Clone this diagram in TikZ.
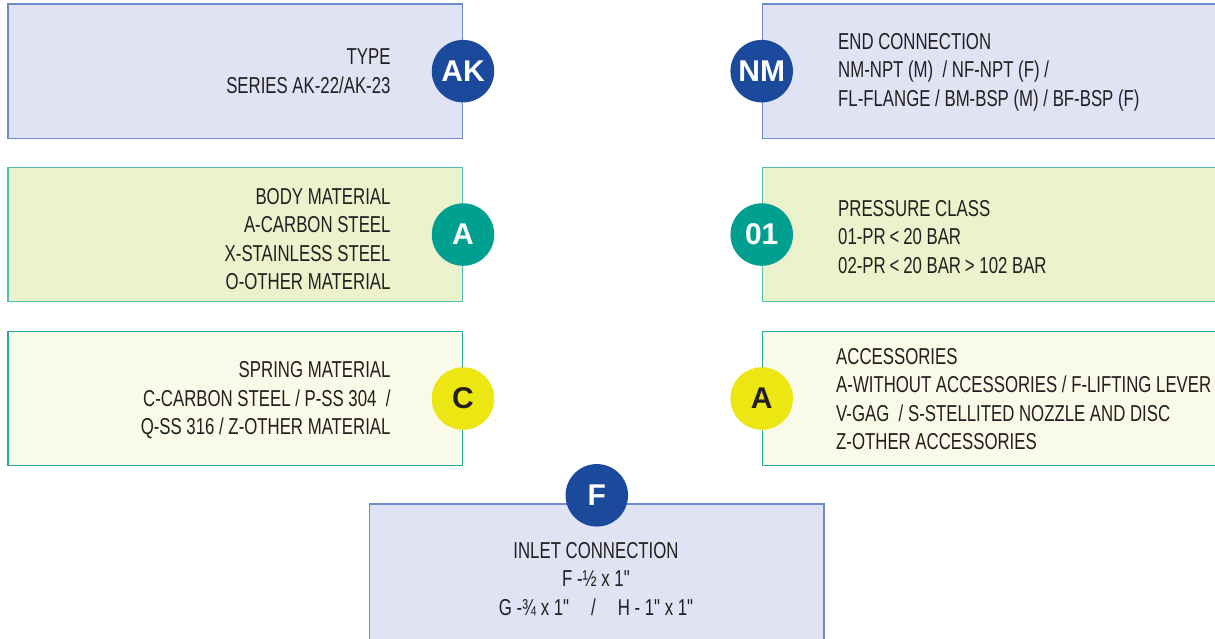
\documentclass[tikz,border=0pt]{standalone}
\usepackage{fontspec}
\setmainfont{Liberation Sans}[FakeStretch=0.73, Ligatures=TeXOff]
\newfontfamily\badgefont{Liberation Sans}[Ligatures=TeXOff]
\usetikzlibrary{positioning}

\definecolor{azulfondo}{HTML}{E0E3F4}
\definecolor{azulborde}{HTML}{6F8CC8}
\definecolor{verdefondo}{HTML}{ECF2CC}
\definecolor{verdeborde}{HTML}{52BFB1}
\definecolor{cremafondo}{HTML}{FAFAE8}
\definecolor{cremaborde}{HTML}{2AA99A}
\definecolor{azulcirculo}{HTML}{1B4A9D}
\definecolor{verdecirculo}{HTML}{00A090}
\definecolor{amarillocirculo}{HTML}{ECE612}
\definecolor{texto}{HTML}{231F20}

\begin{document}
\begin{tikzpicture}[x=1pt, y=-1pt,
    caja/.style={draw, line width=1.3pt, inner sep=0pt, anchor=north west, minimum height=134.4pt},
    cajaazul/.style={caja, fill=azulfondo, draw=azulborde},
    cajaverde/.style={caja, fill=verdefondo, draw=verdeborde},
    cajacrema/.style={caja, fill=cremafondo, draw=cremaborde},
    insignia/.style={circle, minimum size=62.5pt, inner sep=0pt, text=white,
      font=\badgefont\bfseries\fontsize{30}{30}\selectfont},
    rotulo/.style={inner sep=0pt, text=texto, font=\fontsize{23}{28.5}\selectfont},
    izq/.style={rotulo, align=right, anchor=north east},
    der/.style={rotulo, align=left, anchor=north west}]
      \useasboundingbox (0,0) rectangle (1215,638);

      % Cajas
      \node[cajaazul, minimum width=454.4pt] (tipo) at (7.3,3.3) {};
      \node[cajaazul, minimum width=470pt] (extremo) at (761.7,3.3) {};
      \node[cajaverde, minimum width=454.4pt] (cuerpo) at (7.3,166.7) {};
      \node[cajaverde, minimum width=470pt] (presion) at (761.7,166.7) {};
      \node[cajacrema, minimum width=454.4pt] (resorte) at (7.3,330.7) {};
      \node[cajacrema, minimum width=470pt] (accesorios) at (761.7,330.7) {};
      \node[cajaazul, minimum width=454.3pt, minimum height=150pt] (entrada) at (369,503.3) {};

      % Circulos
      \node[insignia, fill=azulcirculo] (ak) at (tipo.east) {AK};
      \node[insignia, fill=azulcirculo] (nm) at (extremo.west) {NM};
      \node[insignia, fill=verdecirculo] (a) at (cuerpo.east) {A};
      \node[insignia, fill=verdecirculo] (cero) at (presion.west) {01};
      \node[insignia, fill=amarillocirculo, text=texto] (c) at (resorte.east) {C};
      \node[insignia, fill=amarillocirculo, text=texto] (acc) at (accesorios.west) {A};
      \node[insignia, fill=azulcirculo] (f) at ([yshift=8pt]entrada.north) {F};

      % Textos
      \node[izq] (tipotxt) at (390.7,48.5) {TYPE\\SERIES AK-22/AK-23};
      \node[der] (extremotxt) at (838,33) {END CONNECTION\\NM-NPT (M)\ \ / NF-NPT (F) /\\FL-FLANGE / BM-BSP (M) / BF-BSP (F)};
      \node[izq] (cuerpotxt) at (390.7,188) {BODY MATERIAL\\A-CARBON STEEL\\X-STAINLESS STEEL\\O-OTHER MATERIAL};
      \node[der] (presiontxt) at (838,200) {PRESSURE CLASS\\01-PR\,<\,20 BAR\\02-PR\,<\,20 BAR\,> 102 BAR};
      \node[izq] (resortetxt) at (390.7,361.7) {SPRING MATERIAL\\C-CARBON STEEL / P-SS 304\ \ /\\Q-SS 316 / Z-OTHER MATERIAL};
      \node[der] (accesoriostxt) at (836,348) {ACCESSORIES\\A-WITHOUT ACCESSORIES\ / F-LIFTING LEVER\\V-GAG\ \ / S-STELLITED NOZZLE AND DISC\\Z-OTHER ACCESSORIES};
      \node[rotulo, align=center, anchor=north] (entradatxt) at (596,542) {INLET CONNECTION\\F -½ x 1"\\G -¾ x 1"\hspace{22pt}/\hspace{22pt}H - 1" x 1"};
    \end{tikzpicture}
\end{document}
